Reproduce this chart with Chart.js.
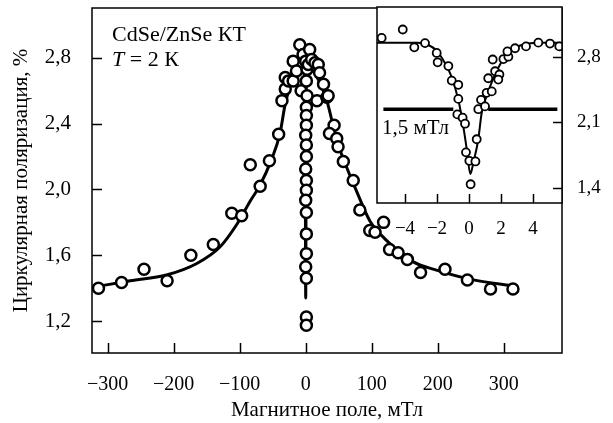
<!DOCTYPE html>
<html>
<head>
<meta charset="utf-8">
<script src="https://cdn.jsdelivr.net/npm/chart.js@4.4.1/dist/chart.umd.min.js"></script>
<style>
  html, body { margin: 0; padding: 0; background: #fff; }
  #wrap { position: relative; width: 613px; height: 423px; }
  canvas { position: absolute; left: 0; top: 0; }
</style>
</head>
<body>
<div id="wrap">
  <canvas id="main" width="613" height="423"></canvas>
  <canvas id="inset" width="613" height="423"></canvas>
</div>
<script>
  // main panel: measured points (field in mT, polarization in %)
  const fieldPts = [-314, -279, -245, -210, -174, -140, -112, -97, -84, -69, -55, -41, -36, -31, -31, -26, -19, -19, -9, -14, -4, -7,
    0, 2, 1, 2, 1, 1, 1, 0, 1, 1, 0, 1, 1, 0, 1, 1, 1, 0, 1, 1, 1,
    4, 6, 9, 14, 19, 21, 17, 27, 32, 34, 43, 36, 47, 49, 57, 72, 82, 97, 105, 118, 127, 140, 154, 174, 211, 245, 280, 314];
  const polPts = [1.40, 1.435, 1.515, 1.445, 1.60, 1.665, 1.855, 1.84, 2.15, 2.02, 2.175, 2.335, 2.54, 2.61, 2.68, 2.66, 2.66, 2.78, 2.88, 2.72, 2.82, 2.60,
    2.78, 2.73, 2.66, 2.57, 2.50, 2.45, 2.39, 2.33, 2.27, 2.20, 2.125, 2.055, 1.995, 1.935, 1.86, 1.73, 1.61, 1.53, 1.46, 1.225, 1.175,
    2.76, 2.85, 2.79, 2.77, 2.76, 2.71, 2.54, 2.64, 2.56, 2.57, 2.39, 2.34, 2.31, 2.26, 2.17, 2.055, 1.875, 1.75, 1.74, 1.80, 1.635, 1.615, 1.575, 1.495, 1.515, 1.45, 1.395, 1.395];

  // main panel: fitted curve
  const fitField = [-323, -266, -211, -165, -130, -104, -84, -70, -52, -39, -31, -19, -8, -1, 0, 1, 8, 20, 32, 47, 62, 77, 97, 120, 163, 198, 249, 320];
  const fitPol = [1.405, 1.445, 1.48, 1.55, 1.65, 1.79, 1.93, 2.02, 2.18, 2.34, 2.52, 2.68, 2.74, 2.76, 1.34, 2.76, 2.74, 2.66, 2.54, 2.30, 2.135, 1.99, 1.81, 1.70, 1.56, 1.51, 1.455, 1.41];

  const xTicks = [-300, -200, -100, 0, 100, 200, 300];
  const yTicks = [1.2, 1.6, 2.0, 2.4, 2.8];

  // inset: low-field dip
  const insetField = [-5.46, -4.14, -3.42, -2.75, -2.02, -1.96, -1.29, -1.08, -0.67, -0.67, -0.73, -0.4, -0.25, -0.19, 0.02, 0.1,
    0.4, 0.48, 0.58, 0.75, 1.0, 1.1, 1.2, 1.42, 1.63, 1.9, 1.83, 1.48, 2.15, 2.46, 2.4, 2.875, 3.56, 4.33, 5.06, 5.64];
  const insetPol = [3.0, 3.09, 2.90, 2.945, 2.84, 2.74, 2.70, 2.545, 2.50, 2.35, 2.185, 2.15, 2.086, 1.78, 1.69, 1.44,
    1.683, 1.92, 2.24, 2.34, 2.27, 2.415, 2.57, 2.43, 2.645, 2.61, 2.556, 2.77, 2.775, 2.80, 2.856, 2.89, 2.91, 2.95, 2.94, 2.91];

  const insetFitField = [-5.75, -3.2, -2.6, -2.0, -1.6, -1.1, -0.67, -0.36, -0.14, 0.08, 0.27, 0.58, 0.79, 1.1, 1.5, 1.95, 2.5, 3.2, 4.2, 5.8];
  const insetFitPol = [2.95, 2.95, 2.93, 2.86, 2.76, 2.59, 2.34, 2.06, 1.81, 1.55, 1.67, 1.92, 2.2, 2.38, 2.56, 2.72, 2.85, 2.92, 2.95, 2.95];

  // half-width marker
  const halfLeft = [-5.35, -0.98];
  const halfRight = [1.2, 5.52];
  const halfLevel = 2.24;

  const insetXTicks = [-4, -2, 0, 2, 4];
  const insetYTicks = [1.4, 2.1, 2.8];

  const serif = '"Liberation Serif", "Times New Roman", serif';
  Chart.defaults.font.family = serif;
  Chart.defaults.color = '#000';

  const zip = (xs, ys) => xs.map((x, i) => ({ x: x, y: ys[i] }));
  const fmt = (v, d) => (v < 0 ? '\u2212' : '') + Math.abs(v).toFixed(d).replace('.', ',');

  // fixed axis size, and no extra room reserved for edge labels
  const fixSize = (key, size) => s => {
    s[key] = size;
    s.paddingTop = s.paddingBottom = s.paddingLeft = s.paddingRight = 0;
  };

  // box around the plot area, inward ticks, free text
  const frame = {
    id: 'frame',
    beforeDraw(chart, args, opts) {
      if (!opts.fill) return;
      const { ctx, chartArea: a } = chart;
      ctx.save();
      ctx.fillStyle = opts.fill;
      ctx.fillRect(a.left, a.top, a.right - a.left, a.bottom - a.top);
      ctx.restore();
    },
    afterDraw(chart, args, opts) {
      const { ctx, chartArea: a, scales } = chart;
      ctx.save();
      ctx.strokeStyle = '#000';
      ctx.lineWidth = 1.5;
      ctx.strokeRect(a.left, a.top, a.right - a.left, a.bottom - a.top);
      ctx.beginPath();
      scales.x.ticks.forEach(t => {
        const px = Math.round(scales.x.getPixelForValue(t.value)) + 0.5;
        ctx.moveTo(px, a.bottom);
        ctx.lineTo(px, a.bottom - opts.tick);
      });
      const ys = scales.y;
      const side = ys.position === 'right' ? a.right : a.left;
      const dir = ys.position === 'right' ? -1 : 1;
      ys.ticks.forEach(t => {
        const py = Math.round(ys.getPixelForValue(t.value)) + 0.5;
        ctx.moveTo(side, py);
        ctx.lineTo(side + dir * opts.tick, py);
      });
      ctx.stroke();
      ctx.fillStyle = '#000';
      ctx.textBaseline = 'alphabetic';
      (opts.texts || []).forEach(t => {
        let x = t.x;
        t.parts.forEach(p => {
          ctx.font = (p.italic ? 'italic ' : '') + t.size + 'px ' + serif;
          ctx.fillText(p.s, x, t.y);
          x += ctx.measureText(p.s).width;
        });
      });
      ctx.restore();
    }
  };

  new Chart(document.getElementById('main'), {
    type: 'scatter',
    data: {
      datasets: [{
        data: zip(fieldPts, polPts),
        order: 0,
        pointRadius: 5.5,
        pointBorderWidth: 2.5,
        pointBackgroundColor: '#fff',
        pointBorderColor: '#000'
      }, {
        type: 'line',
        data: zip(fitField, fitPol),
        order: 1,
        borderColor: '#000',
        borderWidth: 3,
        borderJoinStyle: 'bevel',
        cubicInterpolationMode: 'monotone',
        pointRadius: 0,
        fill: false
      }]
    },
    options: {
      responsive: false,
      animation: false,
      layout: { padding: { left: 0, top: 7, right: 51, bottom: 0 } },
      plugins: {
        legend: { display: false },
        tooltip: { enabled: false },
        frame: {
          tick: 10,
          texts: [
            { x: 112, y: 41, size: 22, parts: [{ s: 'CdSe/ZnSe КТ' }] },
            { x: 112, y: 66, size: 22, parts: [{ s: 'T', italic: true }, { s: ' = 2 К' }] }
          ]
        }
      },
      scales: {
        x: {
          type: 'linear',
          min: -323.8,
          max: 388.3,
          afterBuildTicks: s => { s.ticks = xTicks.map(v => ({ value: v })); },
          afterFit: fixSize('height', 70),
          grid: { display: false },
          border: { display: false },
          ticks: { font: { size: 20 }, padding: 12, maxRotation: 0, callback: v => fmt(v, 0) },
          title: { display: true, text: 'Магнитное поле, мТл', font: { size: 21 }, padding: 0 }
        },
        y: {
          min: 1.006,
          max: 3.103,
          afterBuildTicks: s => { s.ticks = yTicks.map(v => ({ value: v })); },
          afterFit: fixSize('width', 92),
          grid: { display: false },
          border: { display: false },
          ticks: { font: { size: 21 }, padding: 13, callback: v => fmt(v, 1) },
          title: { display: true, text: 'Циркулярная поляризация, %', font: { size: 21 }, padding: { top: 9, bottom: 0 } }
        }
      }
    },
    plugins: [frame]
  });

  new Chart(document.getElementById('inset'), {
    type: 'scatter',
    data: {
      datasets: [{
        data: zip(insetField, insetPol),
        order: 0,
        pointRadius: 4,
        pointBorderWidth: 1.8,
        pointBackgroundColor: '#fff',
        pointBorderColor: '#000'
      }, {
        type: 'line',
        data: zip(insetFitField, insetFitPol),
        order: 1,
        borderColor: '#000',
        borderWidth: 2,
        cubicInterpolationMode: 'monotone',
        pointRadius: 0,
        fill: false
      }, {
        type: 'line',
        data: zip(halfLeft, [halfLevel, halfLevel]),
        order: 2,
        borderColor: '#000',
        borderWidth: 3.5,
        pointRadius: 0
      }, {
        type: 'line',
        data: zip(halfRight, [halfLevel, halfLevel]),
        order: 2,
        borderColor: '#000',
        borderWidth: 3.5,
        pointRadius: 0
      }]
    },
    options: {
      responsive: false,
      animation: false,
      layout: { padding: { left: 377, top: 7, right: 0, bottom: 0 } },
      plugins: {
        legend: { display: false },
        tooltip: { enabled: false },
        frame: {
          fill: '#fff',
          tick: 9,
          texts: [{ x: 382, y: 134, size: 21, parts: [{ s: '1,5 мТл' }] }]
        }
      },
      scales: {
        x: {
          type: 'linear',
          min: -5.75,
          max: 5.81,
          afterBuildTicks: s => { s.ticks = insetXTicks.map(v => ({ value: v })); },
          afterFit: fixSize('height', 220),
          grid: { display: false },
          border: { display: false },
          ticks: { font: { size: 19 }, padding: 7, maxRotation: 0, callback: v => fmt(v, 0) }
        },
        y: {
          position: 'right',
          min: 1.24,
          max: 3.33,
          afterBuildTicks: s => { s.ticks = insetYTicks.map(v => ({ value: v })); },
          afterFit: fixSize('width', 51),
          grid: { display: false },
          border: { display: false },
          ticks: { font: { size: 19 }, padding: 7, callback: v => fmt(v, 1) }
        }
      }
    },
    plugins: [frame]
  });
</script>
</body>
</html>
